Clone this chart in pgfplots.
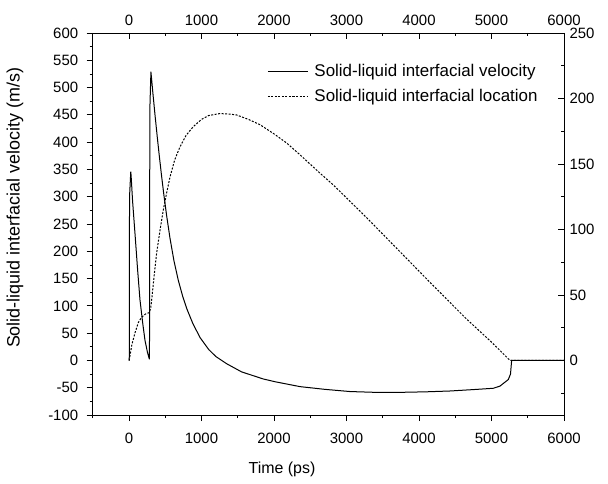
\documentclass[border=0pt]{standalone}
\usepackage{fontspec}
\setmainfont{Liberation Sans}
\usepackage{pgfplots}
\pgfplotsset{compat=1.18}

\pgfplotstableread{
t v
0 0
4 0
8 300
25 346
30 338
50 292
83 233
120 165
152 111
190 68
221 37
255 15
280 3
283 3
288 460
303 529
330 490
360 449
390 410
420 373
450 338
480 305
520 265
566 224
620 183
680 147
740 118
800 94
880 68
980 42
1100 20
1200 7
1347 -6
1554 -21
1853 -34
2014 -39
2359 -48
2703 -53
3048 -57
3400 -58.5
3738 -58.5
4100 -57.5
4428 -56
4800 -53
5025 -51
5117 -47
5232 -35
5262 -25
5278 0
6000 0
}\velocity

\pgfplotstableread{
t l
3 0
40 12
83 21
130 29
175 33
230 35.5
280 36.5
300 40
313 46
350 66
382 82
430 100
474 115
520 128
566 140
630 153
703 163
790 172
887 178.5
1000 184
1100 187
1255 188.5
1400 188
1485 187.4
1650 184
1807 180
2000 173
2175 166
2359 157
2634 143
2818 134
3278 109
3738 83
4198 57
4658 31.5
5000 14
5255 0
6000 0
}\location

\pgfplotsset{
  common/.style={
    scale only axis, width=471.3bp, height=382bp,
    xmin=-500, xmax=6000,
    xtick={0,1000,...,6000}, minor xtick={-500,500,...,5500},
    major tick length=6bp, minor tick length=3bp,
    axis line style={-, line width=0.8bp},
    every tick/.style={black, line width=0.8bp},
    every minor tick/.style={black, line width=0.8bp},
    tick label style={font=\fontsize{15}{18}\selectfont},
    /pgf/number format/assume math mode=true,
    /pgf/number format/1000 sep={},
  }
}

\begin{document}
\begin{tikzpicture}
\begin{axis}[common, name=main,
  ymin=-100, ymax=600,
  axis x line*=bottom, axis y line*=left, tick align=outside,
  ytick={-100,-50,...,600}, minor ytick={-75,-25,...,575},
  xticklabel style={yshift=-9bp},
  yticklabel style={xshift=-5bp},
  xlabel={Time (ps)},
  ylabel={Solid-liquid interfacial velocity (m/s)},
  xlabel style={font=\fontsize{16}{19}\selectfont, at={(axis description cs:0.4017,-0.1414)}, anchor=center},
  ylabel style={font=\fontsize{18}{21}\selectfont, at={(axis description cs:-0.1649,0.542)}, anchor=center},
]
\addplot[black, line width=1bp] table[x=t, y=v] {\velocity};
\end{axis}
\begin{axis}[common,
  ymin=-41.6667, ymax=250,
  axis x line*=top, axis y line*=right, tick align=inside,
  ytick={0,50,...,250}, minor ytick={-25,25,...,225},
  xticklabel style={yshift=4bp},
  yticklabel style={xshift=2bp},
  legend style={draw=none, fill=none, at={(0.955,0.928)}, anchor=north east,
    font=\fontsize{17}{20}\selectfont, row sep=7bp,
    /tikz/every odd column/.append style={column sep=4bp}},
  legend cell align=left,
  legend image code/.code={\draw[#1] (0bp,0bp) -- (40bp,0bp);},
]
\addlegendimage{black, line width=1bp}
\addlegendentry{Solid-liquid interfacial velocity}
\addplot[black, line width=1bp, dash pattern=on 2bp off 1.5bp] table[x=t, y=l] {\location};
\addlegendentry{Solid-liquid interfacial location}
\end{axis}
\pgfresetboundingbox
\path[use as bounding box] ([xshift=-92.7bp,yshift=-68bp]main.south west) rectangle ([xshift=44bp,yshift=33bp]main.north east);
\end{tikzpicture}
\end{document}
